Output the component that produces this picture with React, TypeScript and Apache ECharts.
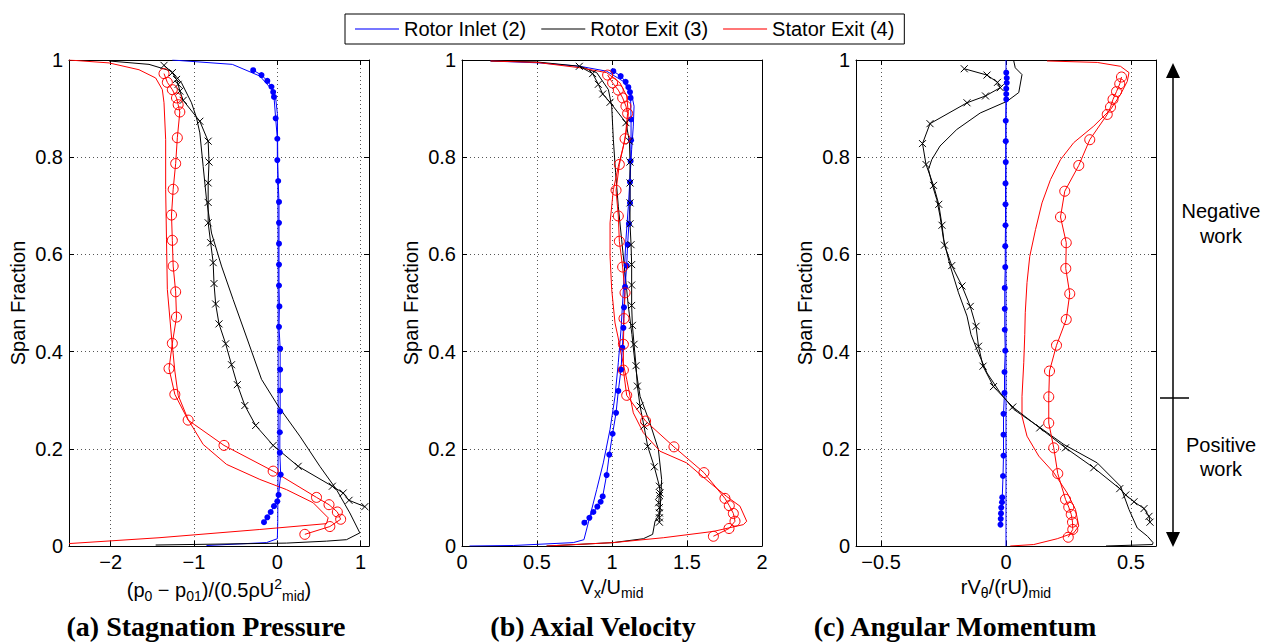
import React, { useEffect, useRef } from "react";
import * as echarts from "echarts";

// ---------- data (x value, span fraction) ----------
const stationNames = ["Rotor Inlet (2)", "Rotor Exit (3)", "Stator Exit (4)"];
const spanTicks = [0, 0.2, 0.4, 0.6, 0.8, 1];
const panelCaptions = ["(a) Stagnation Pressure", "(b) Axial Velocity", "(c) Angular Momentum"];

// (a) stagnation pressure
const pressureInletCfd = [[-1.26,1.0],[-0.54,0.991],[-0.21,0.967],[-0.07,0.94],[-0.02,0.922],[0,0.89],[0.005,0.8],[0.01,0.6],[0.01,0.4],[0.01,0.2],[0.005,0.05],[0.0,0.015],[-0.13,0.007],[-0.85,0.001]];
const pressureInletExp = [[-0.29,0.979],[-0.19,0.969],[-0.12,0.957],[-0.07,0.945],[-0.05,0.934],[-0.04,0.924],[-0.02,0.88],[0.0,0.838],[0.0,0.794],[0.01,0.751],[0.02,0.708],[0.02,0.665],[0.02,0.622],[0.02,0.579],[0.02,0.536],[0.025,0.493],[0.02,0.451],[0.034,0.406],[0.034,0.363],[0.034,0.32],[0.034,0.277],[0.03,0.234],[0.03,0.192],[0.04,0.147],[0.015,0.105],[0.0,0.092],[-0.04,0.082],[-0.08,0.07],[-0.12,0.059],[-0.16,0.049]];
const pressureExitCfd = [[-2.02,0.998],[-1.54,0.991],[-1.27,0.977],[-1.15,0.953],[-1.03,0.912],[-0.97,0.881],[-0.93,0.85],[-0.89,0.781],[-0.85,0.713],[-0.79,0.644],[-0.67,0.576],[-0.53,0.507],[-0.37,0.43],[-0.19,0.343],[0.01,0.288],[0.27,0.226],[0.51,0.164],[0.71,0.116],[0.87,0.068],[0.99,0.027],[0.83,0.013],[0.59,0.01],[0.11,0.006],[-1.46,0.002]];
const pressureExitExp = [[-1.36,0.989],[-1.26,0.974],[-1.21,0.96],[-1.19,0.95],[-1.17,0.936],[-1.13,0.917],[-0.93,0.874],[-0.83,0.833],[-0.82,0.79],[-0.83,0.747],[-0.83,0.707],[-0.83,0.665],[-0.8,0.624],[-0.77,0.583],[-0.76,0.54],[-0.74,0.498],[-0.7,0.457],[-0.62,0.416],[-0.55,0.373],[-0.48,0.332],[-0.39,0.289],[-0.26,0.248],[-0.05,0.207],[0.25,0.164],[0.66,0.123],[0.79,0.109],[0.86,0.094],[1.05,0.081]];
const pressureStatorCfd = [[-2.5,1.0],[-2.02,0.994],[-1.66,0.98],[-1.46,0.963],[-1.38,0.939],[-1.36,0.912],[-1.34,0.836],[-1.34,0.733],[-1.33,0.63],[-1.32,0.528],[-1.27,0.43],[-1.23,0.36],[-1.19,0.31],[-1.07,0.26],[-0.89,0.209],[-0.61,0.168],[-0.21,0.137],[0.11,0.116],[0.43,0.089],[0.61,0.058],[0.59,0.046],[-0.21,0.034],[-1.42,0.017],[-2.5,0.005]];
const pressureStatorExp = [[-1.36,0.972],[-1.32,0.954],[-1.26,0.939],[-1.21,0.922],[-1.19,0.908],[-1.17,0.893],[-1.2,0.84],[-1.22,0.787],[-1.25,0.734],[-1.27,0.681],[-1.26,0.629],[-1.25,0.576],[-1.22,0.523],[-1.21,0.471],[-1.26,0.417],[-1.3,0.365],[-1.23,0.312],[-1.07,0.259],[-0.64,0.207],[-0.05,0.154],[0.47,0.1],[0.62,0.085],[0.72,0.07],[0.76,0.055],[0.63,0.04],[0.33,0.024]];

// (b) axial velocity
const velocityInletCfd = [[0.19,0.998],[0.52,0.994],[0.787,0.987],[0.964,0.977],[1.076,0.956],[1.131,0.929],[1.147,0.905],[1.142,0.864],[1.131,0.816],[1.109,0.699],[1.093,0.631],[1.076,0.528],[1.06,0.445],[1.042,0.377],[1.02,0.308],[0.987,0.24],[0.942,0.171],[0.898,0.116],[0.853,0.061],[0.813,0.013],[0.742,0.007],[0.342,0.001],[0.05,0.0]];
const velocityInletExp = [[1.009,0.977],[1.058,0.967],[1.091,0.955],[1.109,0.944],[1.12,0.934],[1.124,0.922],[1.127,0.878],[1.127,0.835],[1.124,0.792],[1.12,0.749],[1.12,0.706],[1.113,0.663],[1.104,0.62],[1.098,0.577],[1.087,0.533],[1.08,0.491],[1.076,0.449],[1.069,0.408],[1.06,0.363],[1.042,0.319],[1.027,0.274],[1.004,0.231],[0.982,0.188],[0.964,0.146],[0.938,0.102],[0.924,0.091],[0.902,0.081],[0.876,0.07],[0.849,0.058],[0.816,0.048]];
const velocityExitCfd = [[0.19,0.998],[0.498,0.996],[0.787,0.987],[0.898,0.974],[0.976,0.939],[0.998,0.905],[1.009,0.836],[1.024,0.768],[1.042,0.699],[1.064,0.631],[1.087,0.562],[1.109,0.493],[1.133,0.435],[1.153,0.377],[1.187,0.308],[1.253,0.253],[1.309,0.199],[1.331,0.137],[1.32,0.068],[1.287,0.051],[1.271,0.024],[1.209,0.015],[1.009,0.007],[0.564,0.0]];
const velocityExitExp = [[0.782,0.987],[0.871,0.972],[0.909,0.95],[0.938,0.93],[0.987,0.913],[1.093,0.871],[1.116,0.833],[1.12,0.79],[1.12,0.747],[1.12,0.706],[1.12,0.663],[1.127,0.62],[1.131,0.579],[1.131,0.537],[1.131,0.495],[1.136,0.454],[1.147,0.415],[1.16,0.371],[1.169,0.329],[1.187,0.288],[1.213,0.247],[1.238,0.205],[1.282,0.163],[1.316,0.123],[1.32,0.109],[1.316,0.104],[1.311,0.089],[1.316,0.079],[1.316,0.068],[1.316,0.058],[1.316,0.049]];
const velocityStatorCfd = [[0.19,0.998],[0.5,0.995],[0.787,0.984],[0.964,0.974],[1.053,0.953],[1.098,0.926],[1.109,0.891],[1.102,0.864],[1.076,0.823],[1.042,0.781],[1.009,0.733],[0.987,0.665],[0.987,0.596],[0.998,0.528],[1.02,0.459],[1.04,0.43],[1.064,0.391],[1.098,0.343],[1.142,0.274],[1.209,0.233],[1.32,0.195],[1.498,0.171],[1.653,0.13],[1.764,0.102],[1.853,0.082],[1.898,0.051],[1.876,0.044],[1.676,0.03],[1.342,0.017],[1.009,0.007],[0.564,0.0]];
const velocityStatorExp = [[0.971,0.969],[1.004,0.953],[1.042,0.938],[1.071,0.922],[1.093,0.905],[1.104,0.89],[1.087,0.838],[1.049,0.785],[1.027,0.732],[1.042,0.679],[1.049,0.627],[1.071,0.574],[1.087,0.521],[1.08,0.468],[1.076,0.415],[1.076,0.362],[1.098,0.31],[1.224,0.257],[1.413,0.204],[1.613,0.151],[1.753,0.098],[1.782,0.083],[1.809,0.067],[1.82,0.051],[1.78,0.036],[1.676,0.02]];

// (c) angular momentum
const momentumInletCfd = [[0,1],[0,0.5],[0,0]];
const momentumInletExp = [[0.001,0.974],[0.003,0.963],[0.003,0.953],[0.001,0.941],[0.001,0.93],[0.001,0.919],[-0.001,0.875],[-0.001,0.833],[-0.001,0.79],[-0.002,0.746],[-0.002,0.703],[-0.002,0.66],[-0.003,0.617],[-0.003,0.574],[-0.005,0.531],[-0.005,0.488],[-0.005,0.445],[-0.003,0.402],[-0.006,0.358],[-0.006,0.315],[-0.01,0.272],[-0.01,0.229],[-0.01,0.186],[-0.012,0.144],[-0.015,0.1],[-0.016,0.09],[-0.019,0.079],[-0.02,0.067],[-0.021,0.056],[-0.022,0.044]];
const momentumExitCfd = [[0.031,0.998],[0.037,0.984],[0.064,0.97],[0.051,0.933],[0.004,0.915],[-0.103,0.891],[-0.197,0.857],[-0.264,0.823],[-0.297,0.795],[-0.31,0.775],[-0.297,0.747],[-0.277,0.713],[-0.264,0.679],[-0.25,0.631],[-0.223,0.576],[-0.19,0.521],[-0.156,0.473],[-0.14,0.435],[-0.116,0.404],[-0.076,0.356],[-0.023,0.315],[0.031,0.281],[0.138,0.243],[0.231,0.209],[0.365,0.171],[0.458,0.123],[0.492,0.075],[0.525,0.037],[0.566,0.02],[0.588,0.007],[0.586,0.003],[0.4,0.0]];
const momentumExitExp = [[-0.167,0.982],[-0.076,0.969],[-0.034,0.954],[-0.023,0.943],[-0.082,0.926],[-0.156,0.912],[-0.304,0.869],[-0.334,0.828],[-0.32,0.785],[-0.29,0.742],[-0.269,0.703],[-0.256,0.66],[-0.246,0.619],[-0.217,0.577],[-0.176,0.535],[-0.143,0.493],[-0.12,0.452],[-0.11,0.411],[-0.092,0.37],[-0.05,0.328],[0.027,0.286],[0.135,0.243],[0.238,0.202],[0.351,0.161],[0.455,0.118],[0.479,0.105],[0.512,0.091],[0.552,0.077],[0.572,0.061],[0.576,0.049]];
const momentumStatorCfd = [[0.164,0.998],[0.365,0.995],[0.458,0.987],[0.492,0.974],[0.485,0.956],[0.458,0.929],[0.418,0.898],[0.351,0.864],[0.271,0.83],[0.218,0.795],[0.178,0.754],[0.144,0.706],[0.118,0.651],[0.095,0.596],[0.084,0.542],[0.077,0.48],[0.075,0.435],[0.071,0.377],[0.064,0.308],[0.064,0.267],[0.084,0.226],[0.131,0.185],[0.191,0.151],[0.245,0.109],[0.278,0.075],[0.291,0.041],[0.271,0.027],[0.205,0.015],[0.111,0.003],[0.017,0.0]];
const momentumStatorExp = [[0.462,0.965],[0.455,0.951],[0.442,0.935],[0.428,0.919],[0.418,0.903],[0.405,0.888],[0.335,0.836],[0.291,0.783],[0.235,0.73],[0.218,0.677],[0.241,0.624],[0.239,0.571],[0.255,0.519],[0.241,0.466],[0.202,0.413],[0.174,0.36],[0.171,0.307],[0.171,0.253],[0.191,0.202],[0.207,0.149],[0.238,0.096],[0.251,0.08],[0.261,0.065],[0.266,0.049],[0.267,0.034],[0.249,0.018]];

// ---------- styling ----------
const SANS = "'Liberation Sans', Arial, Helvetica, sans-serif";
const SERIF = "'Liberation Serif', 'Times New Roman', serif";
const COLORS = ["#0000ff", "#000000", "#ff0000"];
const LEGEND_COLORS = ["#4a4aff", "#555555", "#ff4a4a"];
const CROSS = "path://M0 0L10 10M10 0L0 10";

const GRIDS = [
  { left: 69, top: 60, width: 300, height: 486 },
  { left: 462, top: 60, width: 300, height: 486 },
  { left: 856, top: 60, width: 300, height: 486 },
];

const richName = {
  m: { fontSize: 20, fontFamily: SANS, color: "#000" },
  s: { fontSize: 14, fontFamily: SANS, color: "#000", padding: [12, 0, 0, 0] },
  u: { fontSize: 14, fontFamily: SANS, color: "#000", padding: [0, 0, 12, 0] },
};

const xNames = [
  "{m|(p}{s|0}{m| \u2212 p}{s|01}{m|)/(0.5\u03c1U}{u|2}{s|mid}{m|)}",
  "{m|V}{s|x}{m|/U}{s|mid}",
  "{m|rV}{s|\u03b8}{m|/(rU)}{s|mid}",
];

const xRanges = [
  { min: -2.5, max: 1.1, splitNumber: 4, step: 1 },
  { min: 0, max: 2, interval: 0.5, step: 0.5 },
  { min: -0.6, max: 0.6, splitNumber: 2, step: 0.5 },
];

function fmtMinus(v: number) {
  const s = String(Math.round(v * 1000) / 1000);
  return s.replace("-", "\u2212");
}

function buildOption() {
  const grid = GRIDS.map((g) => ({ ...g, containLabel: false }));
  const xAxis: any[] = [];
  const yAxis: any[] = [];
  const tickStyle = { inside: true, length: 5, lineStyle: { color: "#000", width: 1 } };
  const lineStyle = { onZero: false, lineStyle: { color: "#000", width: 1 } };
  xRanges.forEach((r, gi) => {
    const range: any = { min: r.min, max: r.max };
    if (r.interval) range.interval = r.interval;
    if (r.splitNumber) range.splitNumber = r.splitNumber;
    xAxis.push({
      type: "value", gridIndex: gi, position: "bottom", ...range,
      axisLine: lineStyle, axisTick: tickStyle,
      axisLabel: {
        color: "#000", fontSize: 20, fontFamily: SANS, margin: 6,
        showMinLabel: r.min % r.step === 0, showMaxLabel: r.max % r.step === 0,
        formatter: (v: number) => (Math.abs(v / r.step - Math.round(v / r.step)) > 1e-6 ? "" : fmtMinus(v)),
      },
      splitLine: { show: true, lineStyle: { color: "#555", width: 1, type: [1, 3] } },
      name: xNames[gi], nameLocation: "middle", nameGap: 25,
      nameTextStyle: { fontSize: 20, fontFamily: SANS, color: "#000", rich: richName },
    });
    xAxis.push({
      type: "value", gridIndex: gi, position: "top", ...range,
      axisLine: lineStyle, axisTick: tickStyle, axisLabel: { show: false }, splitLine: { show: false },
    });
    yAxis.push({
      type: "value", gridIndex: gi, position: "left", min: 0, max: 1, interval: 0.2,
      axisLine: lineStyle, axisTick: tickStyle,
      axisLabel: { color: "#000", fontSize: 20, fontFamily: SANS, margin: 6, formatter: (v: number) => String(Math.round(v * 10) / 10) },
      splitLine: { show: true, lineStyle: { color: "#555", width: 1, type: [1, 3] } },
      name: "Span Fraction", nameLocation: "middle", nameGap: 41,
      nameTextStyle: { fontSize: 20, fontFamily: SANS, color: "#000" },
    });
    yAxis.push({
      type: "value", gridIndex: gi, position: "right", min: 0, max: 1, interval: 0.2,
      axisLine: lineStyle, axisTick: tickStyle, axisLabel: { show: false }, splitLine: { show: false },
    });
  });

  const panels = [
    [pressureInletCfd, pressureExitCfd, pressureStatorCfd, pressureInletExp, pressureExitExp, pressureStatorExp],
    [velocityInletCfd, velocityExitCfd, velocityStatorCfd, velocityInletExp, velocityExitExp, velocityStatorExp],
    [momentumInletCfd, momentumExitCfd, momentumStatorCfd, momentumInletExp, momentumExitExp, momentumStatorExp],
  ];

  const series: any[] = [];
  panels.forEach((p, gi) => {
    for (let k = 0; k < 3; k++) {
      series.push({
        type: "line", name: stationNames[k], data: p[k], xAxisIndex: gi * 2, yAxisIndex: gi * 2,
        symbol: "none", lineStyle: { color: COLORS[k], width: 1 }, itemStyle: { color: COLORS[k] },
        silent: true, z: 2,
      });
    }
  });
  panels.forEach((p, gi) => {
    const markers = [
      { symbol: "circle", symbolSize: 6, itemStyle: { color: COLORS[0], borderWidth: 0 } },
      { symbol: CROSS, symbolSize: 7, itemStyle: { color: "none", borderColor: COLORS[1], borderWidth: 1 } },
      { symbol: "circle", symbolSize: 10, itemStyle: { color: "rgba(0,0,0,0)", borderColor: COLORS[2], borderWidth: 1 } },
    ];
    for (let k = 0; k < 3; k++) {
      series.push({
        type: "line", name: stationNames[k] + " measured", data: p[3 + k], xAxisIndex: gi * 2, yAxisIndex: gi * 2,
        ...markers[k], showAllSymbol: true, lineStyle: { color: COLORS[k], width: 1 },
        silent: true, z: 3,
      });
    }
  });

  const captionX = [206, 593, 955];
  const graphic: any[] = panelCaptions.map((t, i) => ({
    type: "text", x: captionX[i], y: 626, silent: true,
    style: { text: t, fill: "#000", font: `bold 28px ${SERIF}`, textAlign: "center", textVerticalAlign: "middle" },
  }));
  graphic.push(
    { type: "line", shape: { x1: 1173, y1: 76, x2: 1173, y2: 534 }, style: { stroke: "#000", lineWidth: 1.5 }, silent: true },
    { type: "polygon", shape: { points: [[1173, 63], [1166, 78], [1180, 78]] }, style: { fill: "#000" }, silent: true },
    { type: "polygon", shape: { points: [[1173, 547], [1166, 532], [1180, 532]] }, style: { fill: "#000" }, silent: true },
    { type: "line", shape: { x1: 1160, y1: 398, x2: 1189, y2: 398 }, style: { stroke: "#000", lineWidth: 1.5 }, silent: true },
  );
  [["Negative", 211], ["work", 236], ["Positive", 445], ["work", 469]].forEach(([t, y]) => {
    graphic.push({
      type: "text", x: 1221, y: y as number, silent: true,
      style: { text: t as string, fill: "#000", font: `20px ${SANS}`, textAlign: "center", textVerticalAlign: "middle" },
    });
  });

  return {
    animation: false,
    backgroundColor: "#fff",
    grid,
    xAxis,
    yAxis,
    legend: {
      data: stationNames.map((n, k) => ({ name: n, icon: "rect", itemStyle: { color: LEGEND_COLORS[k], borderWidth: 0 } })),
      left: 345, top: 14, orient: "horizontal",
      itemWidth: 44, itemHeight: 1.5, itemGap: 15,
      padding: [5, 10, 5, 10],
      borderColor: "#000", borderWidth: 1, backgroundColor: "#fff",
      textStyle: { fontSize: 20, fontFamily: SANS, color: "#000" },
      selectedMode: false,
    },
    series,
    graphic,
  };
}

export default function App() {
  const ref = useRef<HTMLDivElement>(null);
  useEffect(() => {
    if (!ref.current) return;
    const chart = echarts.init(ref.current, undefined, { renderer: "svg" });
    chart.setOption(buildOption() as any);
    return () => chart.dispose();
  }, []);
  return (
    <div
      ref={ref}
      style={{ position: "fixed", left: 0, top: 0, width: 1273, height: 643, background: "#fff" }}
    />
  );
}
